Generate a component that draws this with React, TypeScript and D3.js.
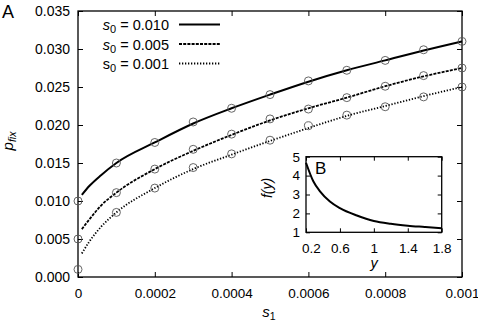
import React, { useEffect, useRef } from 'react';
import * as d3 from 'd3';

// simulation results (open circles)
const s1Sim = [0, 0.0001, 0.0002, 0.0003, 0.0004, 0.0005, 0.0006, 0.0007, 0.0008, 0.0009, 0.001];
const simS0_010 = [0.0100, 0.0150, 0.0177, 0.0204, 0.0222, 0.0240, 0.0258, 0.0272, 0.0285, 0.0299, 0.0310];
const simS0_005 = [0.0050, 0.0111, 0.0142, 0.0168, 0.0188, 0.0208, 0.0221, 0.0236, 0.0251, 0.0265, 0.0275];
const simS0_001 = [0.0010, 0.0085, 0.0117, 0.0144, 0.0162, 0.0180, 0.0199, 0.0213, 0.0224, 0.0237, 0.0250];

// theory curves
const s1Theory = [0.00001, 0.00003, 0.00006, 0.0001, 0.0002, 0.0003, 0.0004, 0.0005, 0.0006, 0.0007, 0.0008, 0.0009, 0.001];
const theoryS0_010 = [0.0108, 0.0120, 0.0134, 0.0150, 0.0177, 0.0202, 0.0222, 0.0240, 0.0257, 0.0272, 0.0285, 0.0298, 0.0310];
const theoryS0_005 = [0.0063, 0.0076, 0.0094, 0.0111, 0.0142, 0.0166, 0.0187, 0.0206, 0.0222, 0.0236, 0.0251, 0.0264, 0.0275];
const theoryS0_001 = [0.0031, 0.0047, 0.0066, 0.0085, 0.0117, 0.0142, 0.0161, 0.0179, 0.0196, 0.0212, 0.0225, 0.0238, 0.0250];

const legendValues = ['0.010', '0.005', '0.001'];
const legendItalic = [true, true, false];
const dashStyles = ['none', '3,1.2', '1.3,1.7'];

const yTicks = [0, 0.005, 0.01, 0.015, 0.02, 0.025, 0.03, 0.035];
const xTicks = [0, 0.0002, 0.0004, 0.0006, 0.0008, 0.001];
const xTickLabels = ['0', '0.0002', '0.0004', '0.0006', '0.0008', '0.001'];

// inset B: f(y)
const insetY = [0.2, 0.286, 0.365, 0.482, 0.6, 0.8, 1.0, 1.2, 1.4, 1.6, 1.8];
const insetF = [4.68, 3.70, 3.17, 2.63, 2.28, 1.89, 1.60, 1.45, 1.35, 1.28, 1.21];
const insetXTicks = [0.2, 0.6, 1, 1.4, 1.8];
const insetXTickLabels = ['0.2', '0.6', '1', '1.4', '1.8'];
const insetYTicks = [1, 2, 3, 4, 5];

const FONT = 'Liberation Sans, Arial, sans-serif';

const App: React.FC = () => {
  const svgRef = useRef<SVGSVGElement | null>(null);

  useEffect(() => {
    if (!svgRef.current) return;
    const width = 478;
    const height = 322;
    const svg = d3.select(svgRef.current)
      .attr('width', width)
      .attr('height', height)
      .attr('viewBox', `0 0 ${width} ${height}`);
    svg.selectAll('*').remove();

    const left = 78, right = 462, top = 11, bottom = 277;

    const x = d3.scaleLinear().domain([0, 0.001]).range([left, right]);
    const y = d3.scaleLinear().domain([0, 0.035]).range([bottom, top]);

    const styleAxis = (g: d3.Selection<SVGGElement, unknown, null, undefined>, size: number) => {
      g.select('.domain').remove();
      g.attr('font-family', FONT).attr('font-size', size);
      g.selectAll('.tick line').attr('stroke', '#000').attr('stroke-width', 1);
      g.selectAll('.tick text').attr('fill', '#000');
    };

    // axes with inward ticks
    svg.append('g')
      .attr('transform', `translate(${left},0)`)
      .call(d3.axisLeft(y).tickValues(yTicks).tickSize(-5).tickPadding(8).tickFormat(d3.format('.3f')))
      .call(g => styleAxis(g, 14));
    svg.append('g')
      .attr('transform', `translate(${right},0)`)
      .call(d3.axisRight(y).tickValues(yTicks).tickSize(-5).tickFormat(() => ''))
      .call(g => styleAxis(g, 14));
    svg.append('g')
      .attr('transform', `translate(0,${bottom})`)
      .call(d3.axisBottom(x).tickValues(xTicks).tickSize(-5).tickPadding(11)
        .tickFormat((_, i) => xTickLabels[i]))
      .call(g => styleAxis(g, 13.5));
    svg.append('g')
      .attr('transform', `translate(0,${top})`)
      .call(d3.axisTop(x).tickValues(xTicks).tickSize(-5).tickFormat(() => ''))
      .call(g => styleAxis(g, 13.5));

    svg.append('rect')
      .attr('x', left).attr('y', top)
      .attr('width', right - left).attr('height', bottom - top)
      .attr('fill', 'none').attr('stroke', '#000').attr('stroke-width', 1.3);

    // theory lines
    const theory = [theoryS0_010, theoryS0_005, theoryS0_001];
    const line = d3.line<number>()
      .x((_, i) => x(s1Theory[i]))
      .y(d => y(d))
      .curve(d3.curveMonotoneX);
    theory.forEach((series, k) => {
      svg.append('path')
        .datum(series)
        .attr('fill', 'none')
        .attr('stroke', '#000')
        .attr('stroke-width', k === 0 ? 2 : 1.8)
        .attr('stroke-dasharray', dashStyles[k])
        .attr('d', line);
    });

    // simulation circles
    const sims = [simS0_010, simS0_005, simS0_001];
    sims.forEach(series => {
      svg.append('g')
        .selectAll('circle')
        .data(series)
        .join('circle')
        .attr('cx', (_, i) => x(s1Sim[i]))
        .attr('cy', d => y(d))
        .attr('r', 4)
        .attr('fill', 'none')
        .attr('stroke', '#555')
        .attr('stroke-width', 0.9);
    });

    // legend
    const legendRows = [30, 49.5, 69];
    legendValues.forEach((v, k) => {
      const t = svg.append('text')
        .attr('x', 169).attr('y', legendRows[k])
        .attr('text-anchor', 'end')
        .attr('font-family', FONT).attr('font-size', 14.5);
      t.append('tspan').attr('font-style', legendItalic[k] ? 'italic' : 'normal').text('s');
      t.append('tspan').attr('font-size', 11).attr('dy', 3).text('0');
      t.append('tspan').attr('dy', -3).text(` = ${v}`);
      svg.append('line')
        .attr('x1', 179).attr('x2', 220)
        .attr('y1', legendRows[k] - 5.5).attr('y2', legendRows[k] - 5.5)
        .attr('stroke', '#000')
        .attr('stroke-width', k === 0 ? 2 : 1.8)
        .attr('stroke-dasharray', dashStyles[k]);
    });

    // axis titles
    const yl = svg.append('text')
      .attr('transform', 'translate(13,141) rotate(-90)')
      .attr('text-anchor', 'middle')
      .attr('font-family', FONT).attr('font-size', 15).attr('font-style', 'italic');
    yl.append('tspan').text('p');
    yl.append('tspan').attr('font-size', 10.5).attr('dy', 3).text('fix');

    const xl = svg.append('text')
      .attr('x', 269).attr('y', 317)
      .attr('text-anchor', 'middle')
      .attr('font-family', FONT).attr('font-size', 15);
    xl.append('tspan').attr('font-style', 'italic').text('s');
    xl.append('tspan').attr('font-size', 10.5).attr('dy', 3).text('1');

    svg.append('text')
      .attr('x', 2).attr('y', 18)
      .attr('font-family', FONT).attr('font-size', 18)
      .text('A');

    // inset B
    const il = 306, ir = 441.7, it = 156.7, ib = 232.3;
    const ix = d3.scaleLinear().domain([0.2, 1.8]).range([il, ir]);
    const iy = d3.scaleLinear().domain([1, 5]).range([ib, it]);

    svg.append('rect')
      .attr('x', il).attr('y', it).attr('width', ir - il).attr('height', ib - it)
      .attr('fill', '#fff');

    svg.append('g')
      .attr('transform', `translate(${il},0)`)
      .call(d3.axisLeft(iy).tickValues(insetYTicks).tickSize(-4).tickPadding(6).tickFormat(d3.format('d')))
      .call(g => styleAxis(g, 13.5));
    svg.append('g')
      .attr('transform', `translate(${ir},0)`)
      .call(d3.axisRight(iy).tickValues(insetYTicks).tickSize(-4).tickFormat(() => ''))
      .call(g => styleAxis(g, 13.5));
    svg.append('g')
      .attr('transform', `translate(0,${ib})`)
      .call(d3.axisBottom(ix).tickValues(insetXTicks).tickSize(-4).tickPadding(11)
        .tickFormat((_, i) => insetXTickLabels[i]))
      .call(g => styleAxis(g, 13.5))
      .call(g => g.selectAll('.tick text').filter((_, i) => i === 0).attr('dx', 5));
    svg.append('g')
      .attr('transform', `translate(0,${it})`)
      .call(d3.axisTop(ix).tickValues(insetXTicks).tickSize(-4).tickFormat(() => ''))
      .call(g => styleAxis(g, 13.5));

    const fLine = d3.line<number>()
      .x((_, i) => ix(insetY[i]))
      .y(d => iy(d))
      .curve(d3.curveMonotoneX);
    svg.append('path')
      .datum(insetF)
      .attr('fill', 'none')
      .attr('stroke', '#000')
      .attr('stroke-width', 2)
      .attr('d', fLine);

    svg.append('rect')
      .attr('x', il).attr('y', it).attr('width', ir - il).attr('height', ib - it)
      .attr('fill', 'none').attr('stroke', '#000').attr('stroke-width', 1.3);

    svg.append('text')
      .attr('x', 315).attr('y', 174)
      .attr('font-family', FONT).attr('font-size', 17)
      .text('B');

    svg.append('text')
      .attr('x', 374).attr('y', 268)
      .attr('text-anchor', 'middle')
      .attr('font-family', FONT).attr('font-size', 14.5).attr('font-style', 'italic')
      .text('y');

    svg.append('text')
      .attr('transform', 'translate(272,188) rotate(-90)')
      .attr('text-anchor', 'middle')
      .attr('font-family', FONT).attr('font-size', 14).attr('font-style', 'italic')
      .text('f(y)');
  }, []);

  return (
    <svg ref={svgRef} style={{ position: 'absolute', left: 0, top: 0, display: 'block', background: '#fff' }}></svg>
  );
};

export default App;
